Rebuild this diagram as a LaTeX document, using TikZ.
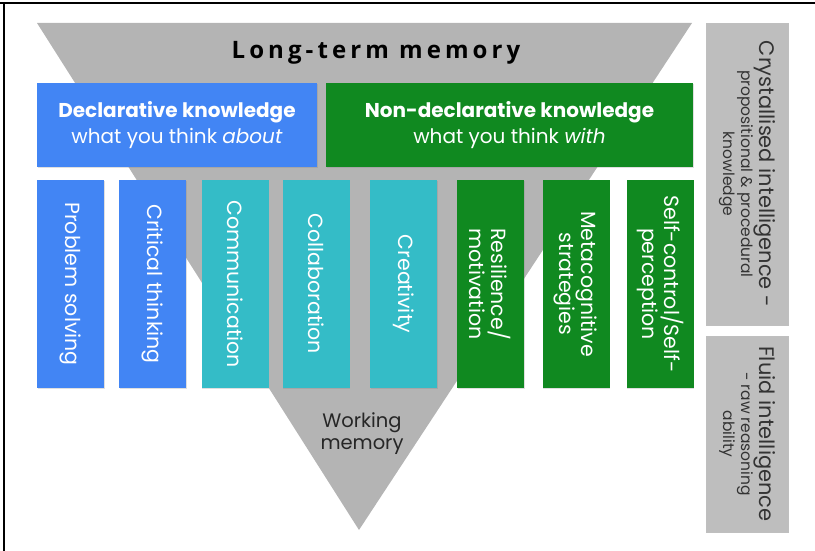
\documentclass[tikz,border=0pt]{standalone}
\usepackage{fontspec}
\setmainfont{Poppins}
\newfontfamily\titlefont[LetterSpace=17]{Open Sans}
\usepackage{tikz}
\usetikzlibrary{positioning,shadows}

\definecolor{funnelgray}{RGB}{180,180,180}
\definecolor{sidegray}{RGB}{190,190,190}
\definecolor{declblue}{RGB}{66,133,244}
\definecolor{skillteal}{RGB}{52,188,199}
\definecolor{nondgreen}{RGB}{16,137,32}

\newcommand{\bigline}{\fontsize{21}{21}\selectfont}

\tikzset{
  box/.style={inner sep=2pt, text=white, align=center,
    drop shadow={opacity=0.25, shadow xshift=0.8pt, shadow yshift=-1.2pt}},
  headbox/.style={box, minimum height=84pt, font=\fontsize{20}{26}\selectfont},
  skillbox/.style={box, rotate=-90, minimum width=208pt, minimum height=67pt,
    font=\fontsize{20.5}{22}\selectfont},
  sidebox/.style={box, rotate=-90, minimum height=82pt, fill=sidegray,
    draw=black!25, text=black!80, font=\fontsize{15.5}{18}\selectfont}
}

\begin{document}
\begin{tikzpicture}[x=1pt,y=-1pt]
        \useasboundingbox (0,0) rectangle (815,551);
        % Frame
        \draw[line width=1.2pt] (0,3) -- (815,3);
        \draw[line width=1.2pt] (4,3) -- (4,551);
        % Funnel
        \fill[funnelgray] (37,23) -- (692,23) -- (359,530) -- cycle;
        \node (ltm) at (376,53) {\titlefont\bfseries\fontsize{24}{28}\selectfont Long-term memory};
        \node[font=\fontsize{19.5}{22}\selectfont, text=black!85, align=center] (wm) at (362,434) {Working\\memory};
        % Knowledge boxes
        \node[headbox, fill=declblue, minimum width=280pt] (decl) at (177,125)
          {\bfseries Declarative knowledge\\what you think \emph{about}};
        \node[headbox, fill=nondgreen, minimum width=367pt] (nondecl) at (509.5,125)
          {\bfseries Non-declarative knowledge\\what you think \emph{with}};
        % Skills
        \node[skillbox, fill=declblue] (probsolv) at (70.5,284) {Problem solving};
        \node[skillbox, fill=declblue] (critthink) at (152.5,284) {Critical thinking};
        \node[skillbox, fill=skillteal] (commun) at (235,284) {Communication};
        \node[skillbox, fill=skillteal] (collab) at (316,284) {Collaboration};
        \node[skillbox, fill=skillteal] (creat) at (403.5,284) {Creativity};
        \node[skillbox, fill=nondgreen] (resil) at (490.5,284) {Resilience/\\motivation};
        \node[skillbox, fill=nondgreen] (metacog) at (576,284) {Metacognitive\\strategies};
        \node[skillbox, fill=nondgreen] (selfctrl) at (660,284) {Self-control/Self-\\perception};
        % Intelligence
        \node[sidebox, minimum width=302pt] (cryst) at (747,174)
          {\bigline Crystallised intelligence -\\propositional \& procedural\\knowledge};
        \node[sidebox, minimum width=196pt] (fluid) at (747,434)
          {\bigline Fluid intelligence\\- raw reasoning\\ability};
\end{tikzpicture}
\end{document}
